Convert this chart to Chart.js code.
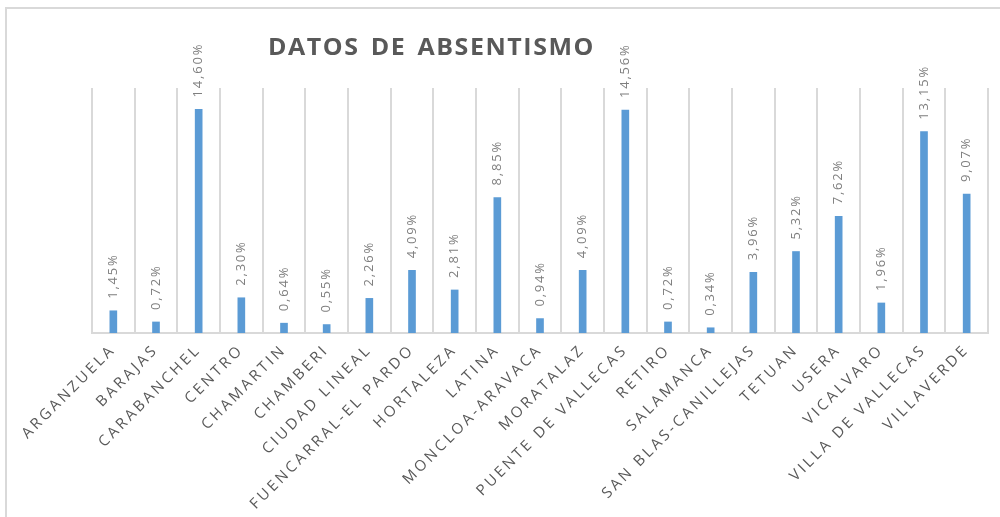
<!DOCTYPE html>
<html>
<head>
<meta charset="utf-8">
<script src="https://cdn.jsdelivr.net/npm/chart.js@4/dist/chart.umd.min.js"></script>
<style>
html,body{margin:0;padding:0;background:#fff;}
#wrap{position:relative;width:1000px;height:517px;}
</style>
</head>
<body>
<div id="wrap"><canvas id="c" width="1000" height="517"></canvas></div>
<script>
const chartTitle = "DATOS DE ABSENTISMO";
const categories = ["ARGANZUELA","BARAJAS","CARABANCHEL","CENTRO","CHAMARTIN","CHAMBERI","CIUDAD LINEAL","FUENCARRAL-EL PARDO","HORTALEZA","LATINA","MONCLOA-ARAVACA","MORATALAZ","PUENTE DE VALLECAS","RETIRO","SALAMANCA","SAN BLAS-CANILLEJAS","TETUAN","USERA","VICALVARO","VILLA DE VALLECAS","VILLAVERDE"];
const absentismo = [1.45,0.72,14.60,2.30,0.64,0.55,2.26,4.09,2.81,8.85,0.94,4.09,14.56,0.72,0.34,3.96,5.32,7.62,1.96,13.15,9.07];

const fmt = v => v.toFixed(2).replace('.', ',') + '%';

const decor = {
  id: 'decor',
  beforeLayout(chart){ chart.ctx.letterSpacing = '3px'; },
  beforeDraw(chart){
    const ctx = chart.ctx;
    ctx.save();
    ctx.strokeStyle = '#d9d9d9';
    ctx.lineWidth = 2;
    ctx.strokeRect(6, 8, 1010, 530);
    ctx.restore();
    ctx.letterSpacing = '3px';
  },
  afterDraw(chart){
    const ctx = chart.ctx;
    ctx.save();
    ctx.letterSpacing = '1.5px';
    ctx.wordSpacing = '3px';
    ctx.fillStyle = '#595959';
    ctx.font = 'bold 24px "Open Sans", sans-serif';
    ctx.textAlign = 'left';
    ctx.textBaseline = 'alphabetic';
    const w = ctx.measureText(chartTitle).width;
    const sx = 268, ex = 595;
    ctx.save();
    ctx.translate(sx, 55);
    ctx.scale((ex - sx) / w, 1);
    ctx.fillText(chartTitle, 0, 0);
    ctx.restore();
    ctx.restore();

    const meta = chart.getDatasetMeta(0);
    ctx.save();
    ctx.letterSpacing = '1.8px';
    ctx.wordSpacing = '0px';
    ctx.fillStyle = '#7f7f7f';
    ctx.font = '13px "Open Sans", sans-serif';
    ctx.textAlign = 'left';
    ctx.textBaseline = 'middle';
    meta.data.forEach((bar, i) => {
      ctx.save();
      ctx.translate(bar.x, bar.y - 12);
      ctx.rotate(-Math.PI / 2);
      ctx.fillText(fmt(absentismo[i]), 0, 0);
      ctx.restore();
    });
    ctx.restore();
  }
};

new Chart(document.getElementById('c'), {
  type: 'bar',
  data: {
    labels: categories,
    datasets: [{
      label: 'Absentismo',
      data: absentismo,
      backgroundColor: '#5b9bd5',
      borderWidth: 0,
      barThickness: 7
    }]
  },
  options: {
    responsive: false,
    animation: false,
    devicePixelRatio: 1,
    layout: { padding: { top: 88, left: 92, right: 12, bottom: -4 } },
    plugins: { legend: { display: false }, title: { display: false }, tooltip: { enabled: false } },
    scales: {
      x: {
        offset: true,
        grid: { display: true, offset: true, color: '#d9d9d9', lineWidth: 2, drawTicks: false },
        border: { display: true, color: '#d9d9d9', width: 2 },
        ticks: {
          color: '#595959',
          font: { family: '"Open Sans", sans-serif', size: 15 },
          maxRotation: 45, minRotation: 45,
          autoSkip: false,
          padding: 8
        }
      },
      y: {
        display: false,
        min: 0, max: 16
      }
    }
  },
  plugins: [decor]
});
</script>
</body>
</html>
